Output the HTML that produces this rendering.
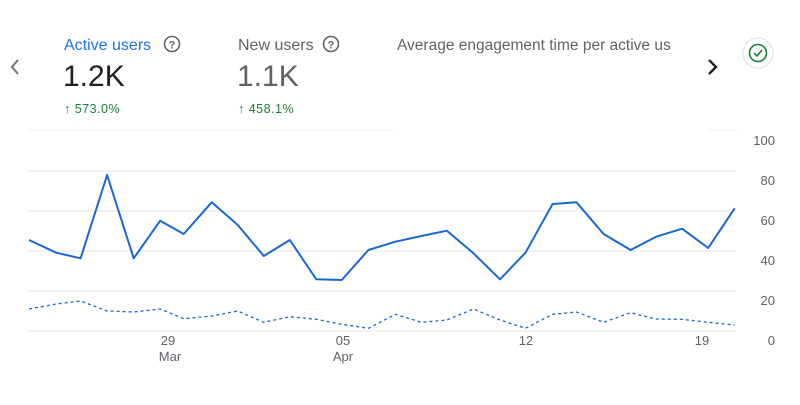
<!DOCTYPE html>
<html><head><meta charset="utf-8"><style>
body{margin:0;background:#fff;width:800px;height:400px;overflow:hidden;font-family:"Liberation Sans",Arial,sans-serif}
</style></head><body>
<svg width="800" height="400" xmlns="http://www.w3.org/2000/svg" font-family="Liberation Sans, Arial, sans-serif">
<rect width="800" height="400" fill="#fff"/>
<path d="M18 60 L12 67 L18 74" fill="none" stroke="#777" stroke-width="2"/>
<text x="64" y="50" font-size="16" fill="#1a73e8">Active users</text>
<circle cx="172" cy="44" r="7.5" fill="none" stroke="#5f6368" stroke-width="1.6"/>
<text x="172" y="48.5" font-size="11" font-weight="bold" fill="#5f6368" text-anchor="middle">?</text>
<text x="63" y="86" font-size="30" fill="#202124">1.2K</text>
<text x="64" y="113" font-size="12.5" fill="#188038" letter-spacing="0.5">↑ 573.0%</text>
<text x="238" y="50" font-size="16" fill="#5f6368">New users</text>
<circle cx="331" cy="44" r="7.5" fill="none" stroke="#5f6368" stroke-width="1.6"/>
<text x="331" y="48.5" font-size="11" font-weight="bold" fill="#5f6368" text-anchor="middle">?</text>
<text x="237" y="86" font-size="30" fill="#5f6368">1.1K</text>
<text x="238" y="113" font-size="12.5" fill="#188038" letter-spacing="0.5">↑ 458.1%</text>
<text x="397" y="50" font-size="15.5" fill="#5f6368">Average engagement time per active us</text>
<path d="M709 60 L716 67 L709 74" fill="none" stroke="#202124" stroke-width="2.4"/>
<circle cx="758" cy="53" r="15" fill="#fff" stroke="#e8e8e8" stroke-width="1.5"/>
<circle cx="758" cy="53" r="8.5" fill="none" stroke="#188038" stroke-width="1.6"/>
<path d="M754 53 L757 56 L762 50" fill="none" stroke="#188038" stroke-width="1.6"/>
<line x1="28" y1="130" x2="393" y2="130" stroke="#eee" stroke-width="1"/>
<line x1="708" y1="130" x2="738" y2="130" stroke="#eee" stroke-width="1"/>
<g stroke="#e6e6e6" stroke-width="1">
<line x1="28" y1="171" x2="736" y2="171"/>
<line x1="28" y1="211" x2="736" y2="211"/>
<line x1="28" y1="251" x2="736" y2="251"/>
<line x1="28" y1="291" x2="736" y2="291"/>
<line x1="28" y1="331" x2="736" y2="331"/>
</g>
<g font-size="13" fill="#5f6368" text-anchor="end">
<text x="775" y="145">100</text><text x="775" y="185">80</text><text x="775" y="225">60</text>
<text x="775" y="265">40</text><text x="775" y="305">20</text><text x="775" y="345">0</text>
</g>
<g font-size="13" fill="#5f6368" text-anchor="middle">
<text x="168" y="345">29</text><text x="170" y="361">Mar</text>
<text x="343" y="345">05</text><text x="343" y="361">Apr</text>
<text x="526" y="345">12</text>
<text x="702" y="345">19</text>
</g>
<polyline id="s" fill="none" stroke="#1967d2" stroke-width="2" stroke-linejoin="round"/>
<polyline id="d" fill="none" stroke="#1967d2" stroke-width="1.3" stroke-dasharray="3,3"/>
</svg>
<script>
var xs=[57,110,158,210,262,314,360,415,466,517,568,620,670,722,775,826,876,928,980,1030,1083,1130,1183,1236,1286,1337,1388,1440];
var ys=[330,368,385,135,385,272,312,217,285,378,330,448,450,360,335,318,302,370,448,368,222,217,312,360,320,296,354,235];
var yd=[537,522,513,543,546,537,566,558,543,577,560,568,583,595,553,577,570,537,570,595,553,546,577,548,567,568,577,585];
function p(a){return xs.map(function(x,i){return (x/1.96).toFixed(1)+","+(130+a[i]/3).toFixed(1)}).join(" ")}
document.getElementById("s").setAttribute("points",p(ys));
document.getElementById("d").setAttribute("points",p(yd));
</script>
</body></html>
